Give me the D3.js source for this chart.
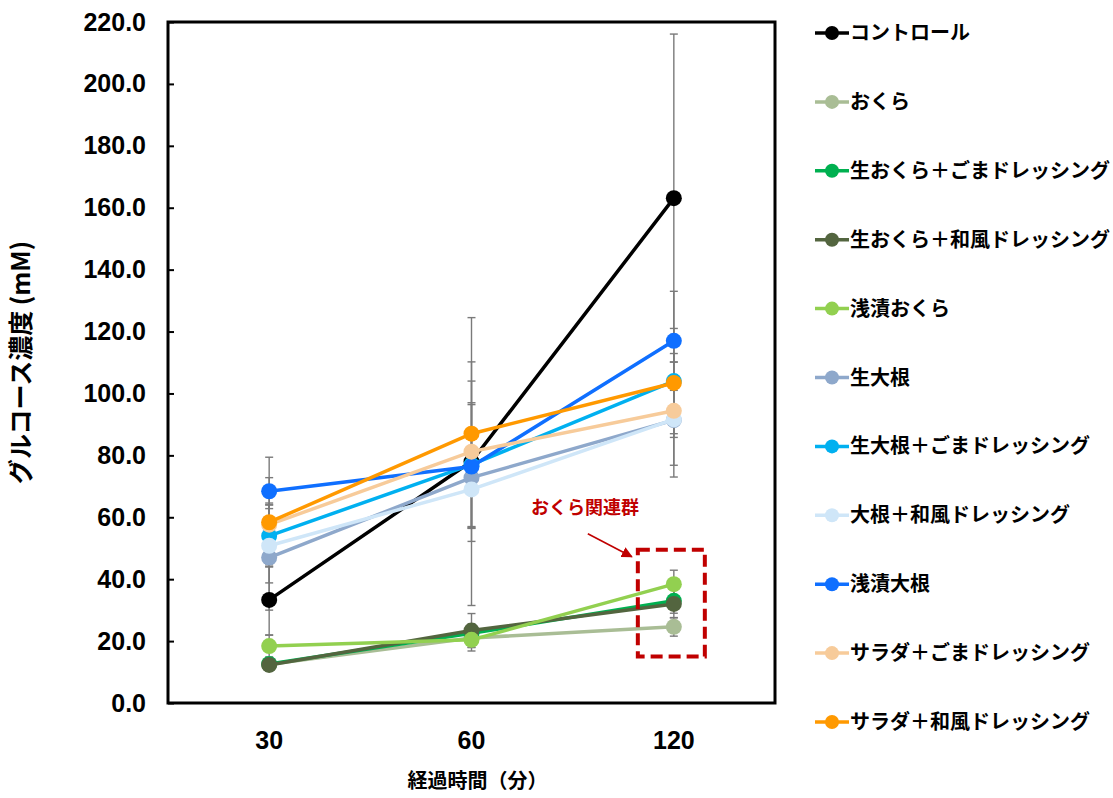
<!DOCTYPE html>
<html>
<head>
<meta charset="utf-8">
<script src="https://cdn.jsdelivr.net/npm/d3@7"></script>
<style>
  body { margin: 0; background: #fff; }
  text { font-family: "Liberation Sans", "Noto Sans CJK JP", sans-serif; font-weight: bold; }
  .jp { font-family: "Noto Sans CJK JP", sans-serif; }
</style>
</head>
<body>
<div id="chart"></div>
<script>
// time points (minutes)
const times = ["30", "60", "120"];

const seriesNames = [
  "コントロール", "おくら", "生おくら＋ごまドレッシング", "生おくら＋和風ドレッシング",
  "浅漬おくら", "生大根", "生大根＋ごまドレッシング", "大根＋和風ドレッシング",
  "浅漬大根", "サラダ＋ごまドレッシング", "サラダ＋和風ドレッシング"
];

const seriesColors = [
  "#000000", "#a9bd95", "#00b050", "#53653f",
  "#92d050", "#8ea8cb", "#00b0f0", "#cfe6f8",
  "#0f6fff", "#f7cb9a", "#ff9900"
];

// mean glucose (mM) at 30 / 60 / 120 min
const means = [
  [33.3, 78.0, 163.1],
  [12.5, 21.0, 24.6],
  [12.6, 22.5, 33.0],
  [12.3, 23.4, 32.0],
  [18.4, 20.4, 38.4],
  [47.0, 72.8, 91.4],
  [54.0, 77.0, 104.0],
  [50.8, 69.0, 91.6],
  [68.4, 76.4, 117.0],
  [57.6, 81.2, 94.4],
  [58.4, 87.0, 103.4]
];

// standard deviations
const errors = [
  [11.3, 46.5, 53.0],
  [2.0, 3.0, 3.0],
  [2.0, 3.0, 4.0],
  [2.0, 5.5, 4.5],
  [3.5, 3.6, 4.5],
  [17.0, 16.0, 14.6],
  [10.0, 20.0, 17.0],
  [12.0, 12.5, 18.6],
  [11.0, 20.0, 16.0],
  [7.0, 29.0, 8.6],
  [14.4, 17.0, 9.5]
];

const yTicks = d3.range(0, 221, 20);

const W = 1113, H = 798;
const plot = { left: 168, top: 22, right: 775, bottom: 703 };

const svg = d3.select("#chart").append("svg")
  .attr("width", W)
  .attr("height", H);

const x = d3.scaleBand()
  .domain(times)
  .range([plot.left, plot.right]);
const cx = t => x(t) + x.bandwidth() / 2;

const y = d3.scaleLinear()
  .domain([0, 220])
  .range([plot.bottom, plot.top]);

const series = seriesNames.map((name, i) => ({
  name,
  color: seriesColors[i],
  points: times.map((t, j) => ({ t, v: means[i][j], e: errors[i][j] }))
}));

// error bars (behind the lines)
const errG = svg.append("g")
  .attr("stroke", "#7a7a7a")
  .attr("stroke-width", 1.4);

series.forEach(s => {
  s.points.forEach(p => {
    errG.append("line")
      .attr("x1", cx(p.t)).attr("x2", cx(p.t))
      .attr("y1", y(p.v - p.e)).attr("y2", y(p.v + p.e));
    [p.v - p.e, p.v + p.e].forEach(v => {
      errG.append("line")
        .attr("x1", cx(p.t) - 4).attr("x2", cx(p.t) + 4)
        .attr("y1", y(v)).attr("y2", y(v));
    });
  });
});

// lines + markers
const line = d3.line()
  .x(d => cx(d.t))
  .y(d => y(d.v));

series.forEach(s => {
  const g = svg.append("g");
  g.append("path")
    .datum(s.points)
    .attr("d", line)
    .attr("fill", "none")
    .attr("stroke", s.color)
    .attr("stroke-width", 3.5);
  g.selectAll("circle")
    .data(s.points)
    .join("circle")
    .attr("cx", d => cx(d.t))
    .attr("cy", d => y(d.v))
    .attr("r", 8)
    .attr("fill", s.color);
});

// plot frame
svg.append("rect")
  .attr("x", plot.left)
  .attr("y", plot.top)
  .attr("width", plot.right - plot.left)
  .attr("height", plot.bottom - plot.top)
  .attr("fill", "none")
  .attr("stroke", "#000")
  .attr("stroke-width", 3);

// y axis
const yAxis = svg.append("g")
  .attr("transform", `translate(${plot.left},0)`)
  .call(d3.axisLeft(y).tickValues(yTicks).tickFormat(d3.format(".1f")).tickSize(-6).tickPadding(22));
yAxis.select(".domain").remove();
yAxis.selectAll(".tick line").attr("stroke", "#000").attr("stroke-width", 2);
yAxis.selectAll(".tick text")
  .attr("font-size", 25)
  .attr("font-family", "Liberation Sans, Arial, sans-serif")
  .attr("font-weight", "bold")
  .attr("fill", "#000");

// x axis labels
const xAxis = svg.append("g")
  .attr("transform", `translate(0,${plot.bottom})`)
  .call(d3.axisBottom(x).tickSize(0).tickPadding(28));
xAxis.select(".domain").remove();
xAxis.selectAll(".tick text")
  .attr("font-size", 25)
  .attr("font-family", "Liberation Sans, Arial, sans-serif")
  .attr("font-weight", "bold")
  .attr("fill", "#000");

// axis titles
svg.append("text")
  .attr("class", "jp")
  .attr("x", (plot.left + plot.right) / 2 + 6)
  .attr("y", 788)
  .attr("text-anchor", "middle")
  .attr("font-size", 20)
  .text("経過時間（分）");

svg.append("text")
  .attr("class", "jp")
  .attr("transform", `translate(30,${(plot.top + plot.bottom) / 2}) rotate(-90)`)
  .attr("text-anchor", "middle")
  .attr("font-size", 25)
  .text("グルコース濃度 (mM)");

// annotation
const red = "#c00000";
const boxX0 = cx("120") - 36, boxX1 = cx("120") + 31;
const boxY0 = y(49.5), boxY1 = y(15);

svg.append("rect")
  .attr("x", boxX0)
  .attr("y", boxY0)
  .attr("width", boxX1 - boxX0)
  .attr("height", boxY1 - boxY0)
  .attr("fill", "none")
  .attr("stroke", red)
  .attr("stroke-width", 4)
  .attr("stroke-dasharray", "12 6");

svg.append("defs").append("marker")
  .attr("id", "arrow")
  .attr("viewBox", "0 0 10 10")
  .attr("refX", 9).attr("refY", 5)
  .attr("markerWidth", 7).attr("markerHeight", 7)
  .attr("orient", "auto")
  .append("path")
  .attr("d", "M0,0 L10,5 L0,10 z")
  .attr("fill", red);

svg.append("line")
  .attr("x1", boxX0 - 50).attr("y1", boxY0 - 16)
  .attr("x2", boxX0 - 6).attr("y2", boxY0 + 7)
  .attr("stroke", red)
  .attr("stroke-width", 1.6)
  .attr("marker-end", "url(#arrow)");

svg.append("text")
  .attr("class", "jp")
  .attr("x", 585)
  .attr("y", 514)
  .attr("text-anchor", "middle")
  .attr("font-size", 18)
  .attr("fill", red)
  .text("おくら関連群");

// legend
const legend = svg.append("g")
  .attr("transform", "translate(815,33)");

series.forEach((s, i) => {
  const row = legend.append("g")
    .attr("transform", `translate(0,${i * 68.9})`);
  row.append("line")
    .attr("x1", 0).attr("x2", 34)
    .attr("y1", 0).attr("y2", 0)
    .attr("stroke", s.color)
    .attr("stroke-width", 3.5);
  row.append("circle")
    .attr("cx", 17).attr("cy", 0).attr("r", 7)
    .attr("fill", s.color);
  row.append("text")
    .attr("class", "jp")
    .attr("x", 35)
    .attr("y", 7)
    .attr("font-size", 20)
    .attr("font-weight", 900)
    .attr("fill", "#000")
    .text(s.name);
});
</script>
</body>
</html>
